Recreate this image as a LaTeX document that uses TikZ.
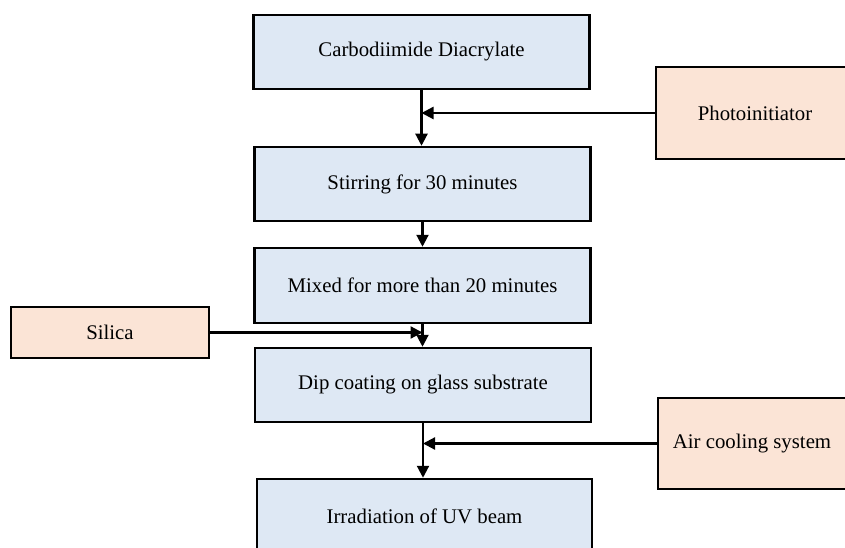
\documentclass[tikz,border=0pt]{standalone}
\usepackage{fontspec}
\setmainfont{Liberation Serif}
\usetikzlibrary{arrows.meta}
\definecolor{stepblue}{HTML}{DEE8F4}
\definecolor{addorange}{HTML}{FBE4D6}
\begin{document}
\begin{tikzpicture}[x=1pt,y=-1pt,
  stepbox/.style={draw=black, line width=2.5pt, fill=stepblue, minimum width=336pt, minimum height=74pt, inner sep=0pt, font=\fontsize{20.8}{24}\selectfont},
  addbox/.style={draw=black, line width=2.5pt, fill=addorange, inner sep=0pt, font=\fontsize{20.8}{24}\selectfont},
  flow/.style={line width=2.2pt, -{Triangle[length=12pt,width=12pt]}}]
\useasboundingbox (0,0) rectangle (845,548);
\clip (0,0) rectangle (845,548);
\node[stepbox] (b1) at (421.5,52) {Carbodiimide Diacrylate};
\node[stepbox] (b2) at (422.5,184) {Stirring for 30 minutes};
\node[stepbox, minimum height=75pt] (b3) at (422.5,285.5) {Mixed for more than 20 minutes};
\node[stepbox] (b4) at (423,385) {Dip coating on glass substrate};
\node[stepbox, minimum width=335pt] (b5) at (424.5,516) {Irradiation of UV beam};
\node[addbox, minimum width=198pt, minimum height=92pt] (photo) at (755,113) {Photoinitiator};
\node[addbox, minimum width=198pt, minimum height=51pt] (silica) at (110,332.5) {Silica};
\node[addbox, minimum width=188pt, minimum height=91pt] (air) at (752,443.5) {Air cooling system};
\draw[flow] (b1.south) -- (b1.south |- b2.north);
\draw[flow] (b2.south) -- (b2.south |- b3.north);
\draw[flow] (b3.south) -- (b3.south |- b4.north);
\draw[flow] (b4.south) -- (b4.south |- b5.north);
\draw[flow] (photo.west) -- (photo.west -| b1.south);
\draw[flow] (silica.east) -- (silica.east -| b3.south);
\draw[flow] (air.west) -- (air.west -| b4.south);
\end{tikzpicture}
\end{document}
